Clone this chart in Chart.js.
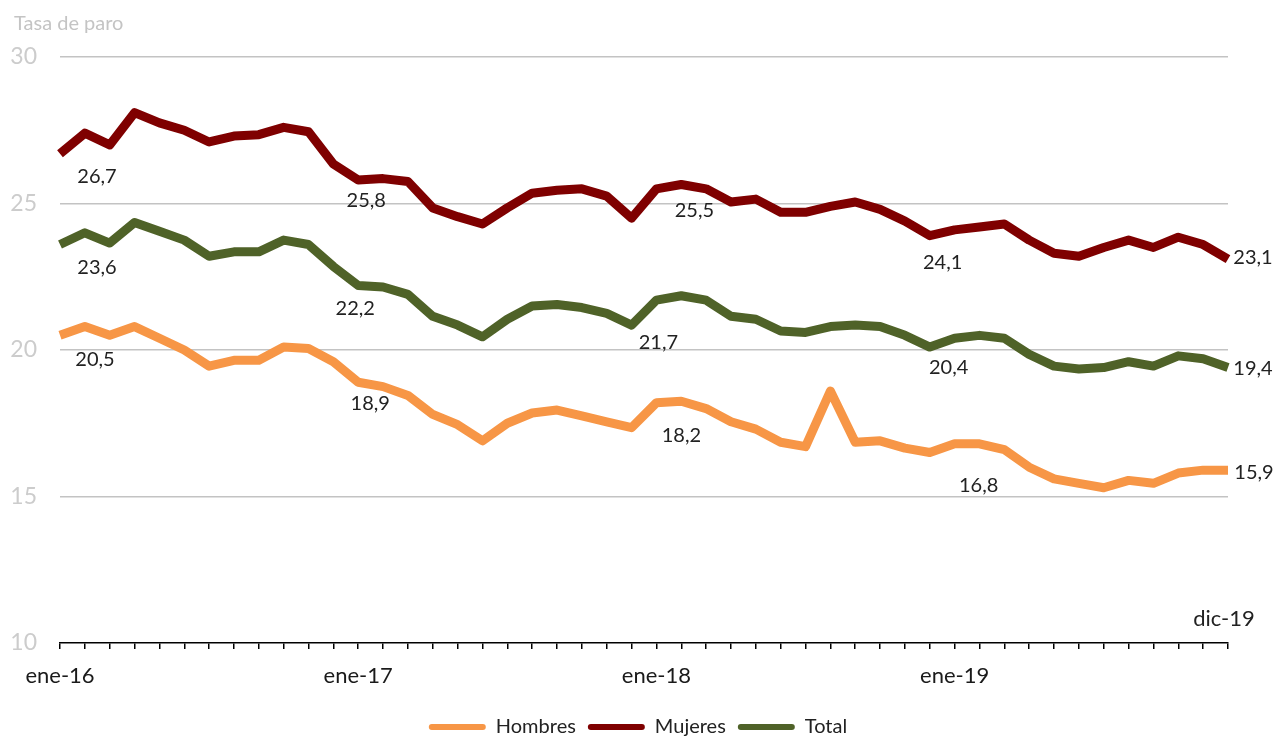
<!DOCTYPE html>
<html>
<head>
<meta charset="utf-8">
<script src="https://cdn.jsdelivr.net/npm/chart.js@4.4.1/dist/chart.umd.min.js"></script>
<style>
  html, body { margin: 0; padding: 0; background: #fff; }
  #wrap { width: 1276px; height: 736px; }
</style>
</head>
<body>
<div id="wrap"><canvas id="chart1"></canvas></div>
<script>
var months = ['ene', 'feb', 'mar', 'abr', 'may', 'jun', 'jul', 'ago', 'sep', 'oct', 'nov', 'dic'];
var years = ['16', '17', '18', '19'];
var categories = [];
years.forEach(function(y) { months.forEach(function(m) { categories.push(m + '-' + y); }); });

var shownTicks = ['ene-16', 'ene-17', 'ene-18', 'ene-19'];
var endLabel = 'dic-19';
var yTitle = 'Tasa de paro';
var yTicks = [10, 15, 20, 25, 30];

var hombres = [20.5, 20.8, 20.5, 20.8, 20.4, 20.0, 19.45, 19.65, 19.65, 20.1, 20.05, 19.6,
               18.9, 18.75, 18.45, 17.8, 17.45, 16.9, 17.5, 17.85, 17.95, 17.75, 17.55, 17.35,
               18.2, 18.25, 18.0, 17.55, 17.3, 16.85, 16.7, 18.6, 16.85, 16.9, 16.65, 16.5,
               16.8, 16.8, 16.6, 16.0, 15.6, 15.45, 15.3, 15.55, 15.45, 15.8, 15.9, 15.9];
var mujeres = [26.7, 27.4, 27.0, 28.1, 27.75, 27.5, 27.1, 27.3, 27.35, 27.6, 27.45, 26.35,
               25.8, 25.85, 25.75, 24.85, 24.55, 24.3, 24.85, 25.35, 25.45, 25.5, 25.25, 24.5,
               25.5, 25.65, 25.5, 25.05, 25.15, 24.7, 24.7, 24.9, 25.05, 24.8, 24.4, 23.9,
               24.1, 24.2, 24.3, 23.75, 23.3, 23.2, 23.5, 23.75, 23.5, 23.85, 23.6, 23.1];
var total = [23.6, 24.0, 23.65, 24.35, 24.05, 23.75, 23.2, 23.35, 23.35, 23.75, 23.6, 22.85,
             22.2, 22.15, 21.9, 21.15, 20.85, 20.45, 21.05, 21.5, 21.55, 21.45, 21.25, 20.85,
             21.7, 21.85, 21.7, 21.15, 21.05, 20.65, 20.6, 20.8, 20.85, 20.8, 20.5, 20.1,
             20.4, 20.5, 20.4, 19.85, 19.45, 19.35, 19.4, 19.6, 19.45, 19.8, 19.7, 19.4];

// which points get a value label
var labelIdx = [0, 12, 24, 36, 47];
// label offsets in px from the point, one row per dataset (hombres, mujeres, total)
var labelOffsets = [
  [[35, 24], [12, 21], [25, 33], [24, 42], [26, 2]],
  [[37, 23], [8, 20], [38, 22], [-12, 33], [25, -2]],
  [[37, 23], [-3, 23], [2, 42], [-6, 29], [25, 1]]
];

var valueLabels = {
  id: 'valueLabels',
  afterDatasetsDraw: function(chart) {
    var ctx = chart.ctx;
    ctx.save();
    ctx.font = '20px Lato';
    ctx.fillStyle = '#222';
    ctx.textAlign = 'center';
    ctx.textBaseline = 'middle';
    chart.data.datasets.forEach(function(ds, i) {
      var meta = chart.getDatasetMeta(i);
      labelIdx.forEach(function(idx, k) {
        var pt = meta.data[idx];
        var off = labelOffsets[i][k];
        ctx.fillText(ds.data[idx].toFixed(1).replace('.', ','), pt.x + off[0], pt.y + off[1]);
      });
    });

    // axis title, top left
    ctx.font = '20px Lato';
    ctx.fillStyle = '#c4c4c4';
    ctx.textAlign = 'left';
    ctx.fillText(yTitle, 14, 24);

    // last month, above the axis
    var x = chart.scales.x;
    ctx.font = '22px Lato';
    ctx.fillStyle = '#222';
    ctx.textAlign = 'center';
    ctx.fillText(endLabel, x.getPixelForValue(categories.length - 1) - 4, x.top - 24);
    ctx.restore();
  }
};

var ctx = document.getElementById('chart1').getContext('2d');
var myChart = new Chart(ctx, {
  type: 'line',
  data: {
    labels: categories,
    datasets: [{
      label: 'Hombres',
      data: hombres,
      borderColor: '#f79646',
      backgroundColor: '#f79646'
    },
    {
      label: 'Mujeres',
      data: mujeres,
      borderColor: '#7f0000',
      backgroundColor: '#7f0000'
    },
    {
      label: 'Total',
      data: total,
      borderColor: '#4f6228',
      backgroundColor: '#4f6228'
    }]
  },
  options: {
    responsive: true,
    maintainAspectRatio: false,
    animation: false,
    layout: {
      padding: { left: 0, right: 0, top: 57, bottom: -11 }
    },
    elements: {
      line: { borderWidth: 9, tension: 0, borderJoinStyle: 'round', borderCapStyle: 'butt' },
      point: { radius: 0, hoverRadius: 0 }
    },
    plugins: {
      tooltip: { enabled: false },
      legend: {
        position: 'bottom',
        labels: {
          boxWidth: 57,
          boxHeight: 6,
          useBorderRadius: true,
          borderRadius: 3,
          padding: 12,
          color: '#222',
          font: { family: 'Lato', size: 20 },
          generateLabels: function(chart) {
            var items = Chart.defaults.plugins.legend.labels.generateLabels(chart);
            items.forEach(function(it) { it.lineWidth = 0; });
            return items;
          }
        }
      }
    },
    scales: {
      x: {
        offset: false,
        afterFit: function(scale) { scale.height = 62; },
        grid: {
          drawOnChartArea: false,
          drawTicks: true,
          tickLength: 6,
          color: '#000',
          lineWidth: 1.5
        },
        border: { display: true, color: '#000', width: 1.5 },
        ticks: {
          autoSkip: false,
          maxRotation: 0,
          padding: 14,
          color: '#1a1a1a',
          font: { family: 'Lato', size: 22 },
          callback: function(value) {
            var lab = categories[value];
            return shownTicks.indexOf(lab) >= 0 ? lab : '';
          }
        }
      },
      y: {
        min: yTicks[0],
        max: yTicks[yTicks.length - 1],
        afterFit: function(scale) { scale.width = 60; },
        afterBuildTicks: function(scale) {
          scale.ticks = yTicks.map(function(v) { return { value: v }; });
        },
        grid: {
          drawTicks: false,
          color: function(c) { return c.tick && c.tick.value === 10 ? 'rgba(0,0,0,0)' : '#c3c3c3'; },
          lineWidth: 1.5
        },
        border: { display: false },
        ticks: {
          padding: 23,
          color: '#cccccc',
          font: { family: 'Lato', size: 23 }
        }
      },
      // empty right axis, keeps room for the end labels
      yRight: {
        position: 'right',
        min: yTicks[0],
        max: yTicks[yTicks.length - 1],
        afterFit: function(scale) { scale.width = 48; },
        grid: { drawOnChartArea: false, drawTicks: false },
        border: { display: false },
        ticks: { display: false }
      }
    }
  },
  plugins: [valueLabels]
});
</script>
</body>
</html>
